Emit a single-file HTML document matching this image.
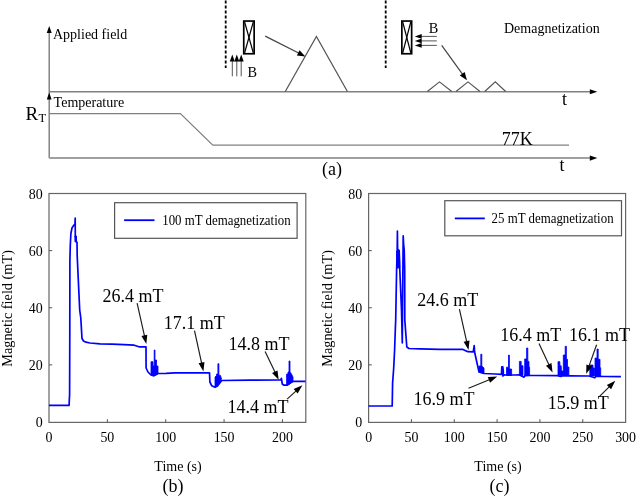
<!DOCTYPE html>
<html><head><meta charset="utf-8"><style>
html,body{margin:0;padding:0;background:#fff;overflow:hidden;}
svg{display:block;will-change:transform;}
text{font-family:"Liberation Serif", serif;fill:#000;}
</style></head><body>
<svg width="637" height="497" viewBox="0 0 637 497">
<rect width="637" height="497" fill="#fff"/>
<line x1="49.2" y1="30" x2="49.2" y2="158" stroke="#777" stroke-width="1.35"/>
<polygon points="49.20,26.00 51.70,33.00 46.70,33.00" fill="#000"/>
<polygon points="49.20,92.40 51.60,99.40 46.80,99.40" fill="#000"/>
<line x1="49" y1="91.8" x2="592" y2="91.8" stroke="#808080" stroke-width="1.4"/>
<polygon points="597.30,91.80 589.80,94.30 589.80,89.30" fill="#000"/>
<line x1="49" y1="158.1" x2="592" y2="158.1" stroke="#a0a0a0" stroke-width="2"/>
<polygon points="597.30,158.10 589.80,160.80 589.80,155.40" fill="#000"/>
<polyline points="49,113.6 180.4,113.6 212.8,145.1 569,145.1" fill="none" stroke="#808080" stroke-width="1.25"/>
<polyline points="285.3,91.5 316.4,36.4 347.4,91.5" fill="none" stroke="#555" stroke-width="1.25" stroke-linejoin="miter"/>
<polyline points="427.3,91.5 439.5,81.9 451.8,91.5" fill="none" stroke="#555" stroke-width="1.2"/>
<polyline points="456,91.5 468,81.9 480,91.5" fill="none" stroke="#555" stroke-width="1.2"/>
<polyline points="484.7,91.5 495.3,81.9 505.7,91.5" fill="none" stroke="#555" stroke-width="1.2"/>
<line x1="225.7" y1="0" x2="225.7" y2="68" stroke="#000" stroke-width="1.8" stroke-dasharray="3,2" stroke-dashoffset="4.5"/>
<line x1="385.7" y1="0" x2="385.7" y2="68" stroke="#000" stroke-width="1.8" stroke-dasharray="3,2" stroke-dashoffset="4.5"/>
<rect x="243.75" y="21.05" width="10.4" height="32.699999999999996" fill="none" stroke="#000" stroke-width="1.7"/>
<line x1="244.6" y1="21.9" x2="253.3" y2="52.89999999999999" stroke="#000" stroke-width="1.25"/>
<line x1="253.3" y1="21.9" x2="244.6" y2="52.89999999999999" stroke="#000" stroke-width="1.25"/>
<rect x="401.85" y="21.05" width="9.8" height="32.699999999999996" fill="none" stroke="#000" stroke-width="1.7"/>
<line x1="402.7" y1="21.9" x2="410.8" y2="52.89999999999999" stroke="#000" stroke-width="1.25"/>
<line x1="410.8" y1="21.9" x2="402.7" y2="52.89999999999999" stroke="#000" stroke-width="1.25"/>
<line x1="232.3" y1="76.3" x2="232.3" y2="60" stroke="#555" stroke-width="1"/>
<polygon points="232.30,54.60 234.80,61.50 229.80,61.50" fill="#000"/>
<line x1="236.8" y1="76.3" x2="236.8" y2="60" stroke="#555" stroke-width="1"/>
<polygon points="236.80,54.60 239.30,61.50 234.30,61.50" fill="#000"/>
<line x1="241.2" y1="76.3" x2="241.2" y2="60" stroke="#555" stroke-width="1"/>
<polygon points="241.20,54.60 243.70,61.50 238.70,61.50" fill="#000"/>
<line x1="436.8" y1="36.4" x2="420" y2="36.4" stroke="#555" stroke-width="1"/>
<polygon points="414.80,36.40 421.70,34.10 421.70,38.70" fill="#000"/>
<line x1="436.8" y1="40.9" x2="420" y2="40.9" stroke="#555" stroke-width="1"/>
<polygon points="414.80,40.90 421.70,38.60 421.70,43.20" fill="#000"/>
<line x1="436.8" y1="45.4" x2="420" y2="45.4" stroke="#555" stroke-width="1"/>
<polygon points="414.80,45.40 421.70,43.10 421.70,47.70" fill="#000"/>
<line x1="265.2" y1="36.1" x2="299.09" y2="53.30" stroke="#444" stroke-width="1.2"/><polygon points="305.34,56.47 296.84,55.53 299.56,50.18" fill="#000"/>
<line x1="441.7" y1="45.4" x2="462.85" y2="74.62" stroke="#444" stroke-width="1.2"/><polygon points="466.95,80.29 459.83,75.56 464.69,72.05" fill="#000"/>
<text x="53" y="38.7" font-size="14" text-anchor="start" >Applied field</text>
<text x="53.6" y="107.1" font-size="14" text-anchor="start" >Temperature</text>
<text x="25.5" y="119.6" font-size="19" text-anchor="start" >R</text>
<text x="38.4" y="122.2" font-size="12.5" text-anchor="start" >T</text>
<text x="247.4" y="77.2" font-size="14.3" text-anchor="start" >B</text>
<text x="428.8" y="32.9" font-size="14.3" text-anchor="start" >B</text>
<text x="504" y="33" font-size="14" text-anchor="start" >Demagnetization</text>
<text x="501.8" y="144.9" font-size="18" text-anchor="start" >77K</text>
<text x="559.5" y="171" font-size="18" text-anchor="start" >t</text>
<text x="562" y="105" font-size="18" text-anchor="start" >t</text>
<text x="322" y="174.7" font-size="18" text-anchor="start" >(a)</text>
<rect x="49" y="193.5" width="256.8" height="228.89999999999998" fill="none" stroke="#666" stroke-width="1.2"/>
<text transform="translate(49.00,442.2) scale(0.96,1)" font-size="14.5" text-anchor="middle">0</text>
<line x1="107.36" y1="422.4" x2="107.36" y2="419.2" stroke="#555" stroke-width="1"/>
<text transform="translate(107.36,442.2) scale(0.96,1)" font-size="14.5" text-anchor="middle">50</text>
<line x1="165.73" y1="422.4" x2="165.73" y2="419.2" stroke="#555" stroke-width="1"/>
<text transform="translate(165.73,442.2) scale(0.96,1)" font-size="14.5" text-anchor="middle">100</text>
<line x1="224.09" y1="422.4" x2="224.09" y2="419.2" stroke="#555" stroke-width="1"/>
<text transform="translate(224.09,442.2) scale(0.96,1)" font-size="14.5" text-anchor="middle">150</text>
<line x1="282.45" y1="422.4" x2="282.45" y2="419.2" stroke="#555" stroke-width="1"/>
<text transform="translate(282.45,442.2) scale(0.96,1)" font-size="14.5" text-anchor="middle">200</text>
<text transform="translate(42.60,427.00) scale(0.96,1)" font-size="14.5" text-anchor="end">0</text>
<line x1="49" y1="364.88" x2="52.2" y2="364.88" stroke="#555" stroke-width="1"/>
<text transform="translate(42.60,369.88) scale(0.96,1)" font-size="14.5" text-anchor="end">20</text>
<line x1="49" y1="307.75" x2="52.2" y2="307.75" stroke="#555" stroke-width="1"/>
<text transform="translate(42.60,312.75) scale(0.96,1)" font-size="14.5" text-anchor="end">40</text>
<line x1="49" y1="250.62" x2="52.2" y2="250.62" stroke="#555" stroke-width="1"/>
<text transform="translate(42.60,255.62) scale(0.96,1)" font-size="14.5" text-anchor="end">60</text>
<text transform="translate(42.60,198.50) scale(0.96,1)" font-size="14.5" text-anchor="end">80</text>
<polyline points="49,405.4 69.1,405.4 69.3,400 69.6,395 69.8,330 69.9,260 70.3,245 70.9,233.5 72,228 73.5,225.6 75,224 75.2,218 75.3,236 76.1,236.5 76.2,241.5 77.0,242.3 77.2,256 79.7,310 80.8,318 82,338.5 83.5,341 86,342.2 90,343 100,343.8 112,344.2 124,344.6 134.2,345.2 139,346.8 146,346.8 146.1,368 148,372 151,375 153.5,375.6 158,373.5 166,373.4 175,372.9 209.5,372.9 209.9,382 211.8,385.8 215,387.3 217.5,386 221.7,380.5 250,380.2 280.8,379.9 281.4,378.3 282.3,384 284,385.2 287,385.2 290,383 293,381.4 305.5,381.4" fill="none" stroke="#0000ff" stroke-width="1.7" stroke-linejoin="round"/>
<polygon points="74.7,236 76.4,236.3 76.6,242 75,242" fill="#0000ff" stroke="#0000ff" stroke-width="0.8" stroke-linejoin="round"/>
<polygon points="151,375 151,361.7 153,361.7 153,366 154.2,366 154.2,350 155,350 155,360 156.5,360 156.5,366 158,366 158,374 154,376.2" fill="#0000ff" stroke="#0000ff" stroke-width="0.8" stroke-linejoin="round"/>
<polygon points="215,387 215,377 216.5,375.5 216.5,374 217.9,374 217.9,363.7 218.9,363.7 218.9,375 220.5,375.5 221.5,379 218,385" fill="#0000ff" stroke="#0000ff" stroke-width="0.8" stroke-linejoin="round"/>
<polygon points="286.6,385 286.6,374 288,374 288,372 289,372 289,361 290,361 290,372 291.5,374 293,377 293,381.5 289,384.5" fill="#0000ff" stroke="#0000ff" stroke-width="0.8" stroke-linejoin="round"/>
<rect x="114.6" y="202.7" width="182.5" height="35.6" fill="#fff" stroke="#555" stroke-width="1.2"/>
<line x1="124.1" y1="220.2" x2="154.5" y2="220.2" stroke="#0000ff" stroke-width="1.8"/>
<text transform="translate(162.2,224.9) scale(0.92,1)" font-size="14">100 mT demagnetization</text>
<text x="102.5" y="302" font-size="18" text-anchor="start" >26.4 mT</text>
<line x1="137.1" y1="303.2" x2="144.57" y2="336.28" stroke="#1a1a1a" stroke-width="1.15"/><polygon points="146.33,344.09 141.42,335.97 147.28,334.65" fill="#000"/>
<text x="163.8" y="328.7" font-size="18" text-anchor="start" >17.1 mT</text>
<line x1="194.5" y1="330.6" x2="201.72" y2="363.67" stroke="#1a1a1a" stroke-width="1.15"/><polygon points="203.43,371.49 198.58,363.33 204.44,362.05" fill="#000"/>
<text x="228.4" y="349.5" font-size="18" text-anchor="start" >14.8 mT</text>
<line x1="265.1" y1="351.5" x2="275.21" y2="372.62" stroke="#1a1a1a" stroke-width="1.15"/><polygon points="278.66,379.84 272.07,373.02 277.48,370.43" fill="#000"/>
<text x="227.4" y="413.2" font-size="18" text-anchor="start" >14.4 mT</text>
<line x1="287.1" y1="399.1" x2="296.41" y2="390.67" stroke="#1a1a1a" stroke-width="1.15"/><polygon points="302.34,385.30 297.69,393.56 293.66,389.11" fill="#000"/>
<text x="178" y="471.4" font-size="14" text-anchor="middle" >Time (s)</text>
<text x="173" y="491.8" font-size="18" text-anchor="middle" >(b)</text>
<text transform="translate(11.8,308.4) rotate(-90)" font-size="14.3" text-anchor="middle">Magnetic field (mT)</text>
<rect x="368.6" y="193.5" width="257.0" height="228.89999999999998" fill="none" stroke="#666" stroke-width="1.2"/>
<text transform="translate(368.60,442.2) scale(0.96,1)" font-size="14.5" text-anchor="middle">0</text>
<line x1="411.43" y1="422.4" x2="411.43" y2="419.2" stroke="#555" stroke-width="1"/>
<text transform="translate(411.43,442.2) scale(0.96,1)" font-size="14.5" text-anchor="middle">50</text>
<line x1="454.27" y1="422.4" x2="454.27" y2="419.2" stroke="#555" stroke-width="1"/>
<text transform="translate(454.27,442.2) scale(0.96,1)" font-size="14.5" text-anchor="middle">100</text>
<line x1="497.10" y1="422.4" x2="497.10" y2="419.2" stroke="#555" stroke-width="1"/>
<text transform="translate(497.10,442.2) scale(0.96,1)" font-size="14.5" text-anchor="middle">150</text>
<line x1="539.93" y1="422.4" x2="539.93" y2="419.2" stroke="#555" stroke-width="1"/>
<text transform="translate(539.93,442.2) scale(0.96,1)" font-size="14.5" text-anchor="middle">200</text>
<line x1="582.77" y1="422.4" x2="582.77" y2="419.2" stroke="#555" stroke-width="1"/>
<text transform="translate(582.77,442.2) scale(0.96,1)" font-size="14.5" text-anchor="middle">250</text>
<text transform="translate(625.60,442.2) scale(0.96,1)" font-size="14.5" text-anchor="middle">300</text>
<text transform="translate(362.20,427.00) scale(0.96,1)" font-size="14.5" text-anchor="end">0</text>
<line x1="368.6" y1="364.88" x2="371.8" y2="364.88" stroke="#555" stroke-width="1"/>
<text transform="translate(362.20,369.88) scale(0.96,1)" font-size="14.5" text-anchor="end">20</text>
<line x1="368.6" y1="307.75" x2="371.8" y2="307.75" stroke="#555" stroke-width="1"/>
<text transform="translate(362.20,312.75) scale(0.96,1)" font-size="14.5" text-anchor="end">40</text>
<line x1="368.6" y1="250.62" x2="371.8" y2="250.62" stroke="#555" stroke-width="1"/>
<text transform="translate(362.20,255.62) scale(0.96,1)" font-size="14.5" text-anchor="end">60</text>
<text transform="translate(362.20,198.50) scale(0.96,1)" font-size="14.5" text-anchor="end">80</text>
<polyline points="368.6,406 392.2,406 392.6,383 393.7,368 394.6,350 395.3,330 395.7,320 396.6,270 397.2,250 397.4,231 397.6,249 399.2,251 399.8,270 401.5,310 402.3,343 402.6,300 402.9,270 403.2,235.8 403.6,244 404.2,250 404.7,270 404.8,320 406.8,347 409,348.5 420,348.9 440,349.3 463,349.4 467.8,351.7 473.2,351.8 474.2,345.7 474.6,352 479,372 484,373.5 495,374 501.5,374.3 501.8,366.8 502.8,366.8 503.4,372 502.8,376 504.5,374.8 506,375 515,375 519.5,374.9 524.1,377.2 525,375.5 535,375.5 557.5,375.6 558.5,376 561,376.5 562,375.8 570,375.9 589,376 594.8,377.8 596,376.3 605,376.5 620.9,376.6" fill="none" stroke="#0000ff" stroke-width="1.7" stroke-linejoin="round"/>
<polygon points="396.5,251 399.4,250 399.8,268 396.8,268" fill="#0000ff" stroke="#0000ff" stroke-width="0.8" stroke-linejoin="round"/>
<polygon points="479,372 479,366 480.8,366 480.8,354.2 481.8,354.2 481.8,366 484,368 484,373.5" fill="#0000ff" stroke="#0000ff" stroke-width="0.8" stroke-linejoin="round"/>
<polygon points="506.5,375.5 506.5,367.2 508.5,367.2 508.5,355.1 509.4,355.1 509.4,369 511.6,369 511.6,375.5" fill="#0000ff" stroke="#0000ff" stroke-width="0.8" stroke-linejoin="round"/>
<polygon points="519.4,375 519.4,361.4 521.2,361.4 521.2,365.7 523,365.7 523,375.5" fill="#0000ff" stroke="#0000ff" stroke-width="0.8" stroke-linejoin="round"/>
<polygon points="524.7,376 524.7,358.9 526.6,358.9 526.6,348 527.8,348 527.8,361.4 529,361.4 529,367.2 529.6,367.2 529.6,375.5" fill="#0000ff" stroke="#0000ff" stroke-width="0.8" stroke-linejoin="round"/>
<polygon points="558,375.5 558,361.7 559.9,361.7 559.9,365.8 561.2,365.8 561.5,371 563.3,371 563.3,355 565.2,355 565.2,346.3 566.4,346.3 566.4,359.3 567.5,359.3 567.5,367 568.9,367 568.9,375.5" fill="#0000ff" stroke="#0000ff" stroke-width="0.8" stroke-linejoin="round"/>
<polygon points="589.8,376 589.8,365 593,365 593,368 594.5,368 594.5,376" fill="#0000ff" stroke="#0000ff" stroke-width="0.8" stroke-linejoin="round"/>
<polygon points="595,376 595,358.1 597,358.1 597,349 598.2,349 598.2,359.3 600,359.3 600,367.8 600.7,367.8 600.7,376" fill="#0000ff" stroke="#0000ff" stroke-width="0.8" stroke-linejoin="round"/>
<rect x="444.8" y="200.7" width="176.7" height="35.1" fill="#fff" stroke="#555" stroke-width="1.2"/>
<line x1="454.8" y1="218.4" x2="484.8" y2="218.4" stroke="#0000ff" stroke-width="1.8"/>
<text transform="translate(491.6,222.9) scale(0.92,1)" font-size="14">25 mT demagnetization</text>
<text x="417.2" y="306.1" font-size="18" text-anchor="start" >24.6 mT</text>
<line x1="459.4" y1="309.2" x2="466.78" y2="342.08" stroke="#1a1a1a" stroke-width="1.15"/><polygon points="468.53,349.89 463.63,341.76 469.49,340.45" fill="#000"/>
<text x="413.6" y="404.8" font-size="18" text-anchor="start" >16.9 mT</text>
<line x1="468.5" y1="388.2" x2="489.85" y2="379.49" stroke="#1a1a1a" stroke-width="1.15"/><polygon points="497.26,376.47 490.05,382.65 487.79,377.09" fill="#000"/>
<text x="500.2" y="341.2" font-size="18" text-anchor="start" >16.4 mT</text>
<line x1="539" y1="343.5" x2="549.17" y2="365.29" stroke="#1a1a1a" stroke-width="1.15"/><polygon points="552.55,372.54 546.03,365.66 551.47,363.12" fill="#000"/>
<text x="569.1" y="340.9" font-size="18" text-anchor="start" >16.1 mT</text>
<line x1="596.6" y1="344.8" x2="588.89" y2="366.33" stroke="#1a1a1a" stroke-width="1.15"/><polygon points="586.20,373.86 586.41,364.38 592.06,366.40" fill="#000"/>
<text x="547.8" y="408.9" font-size="18" text-anchor="start" >15.9 mT</text>
<line x1="599.8" y1="396.2" x2="609.67" y2="386.33" stroke="#1a1a1a" stroke-width="1.15"/><polygon points="615.32,380.68 611.08,389.16 606.84,384.92" fill="#000"/>
<text x="498" y="471.4" font-size="14" text-anchor="middle" >Time (s)</text>
<text x="499.4" y="491.8" font-size="18" text-anchor="middle" >(c)</text>
<text transform="translate(331.8,308.4) rotate(-90)" font-size="14.3" text-anchor="middle">Magnetic field (mT)</text>
</svg></body></html>
